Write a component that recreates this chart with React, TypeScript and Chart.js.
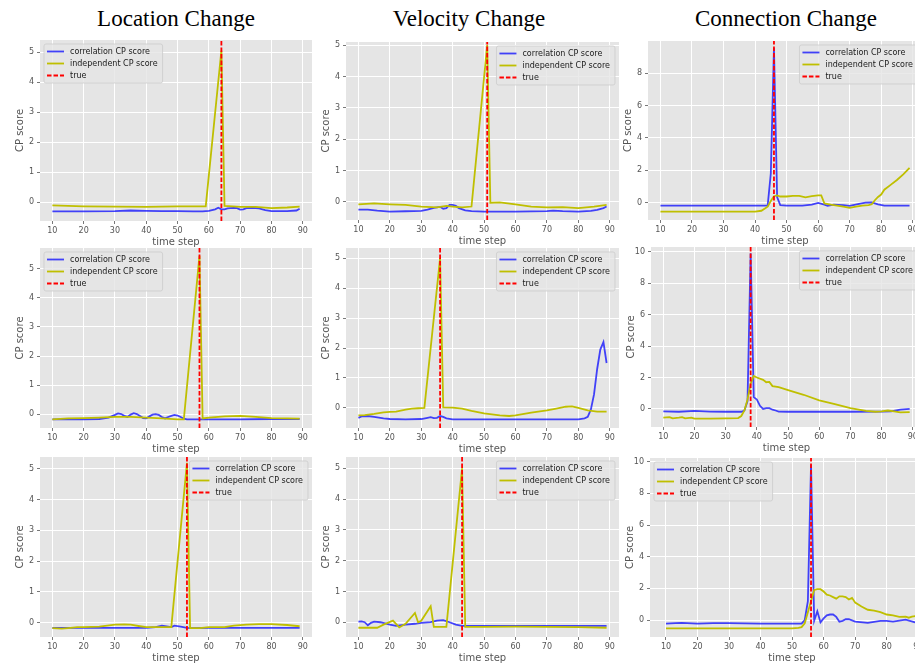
import React, { useEffect, useRef } from 'react';
import { Chart, registerables } from 'chart.js';

Chart.register(...registerables);
Chart.defaults.font.family = '"DejaVu Sans", sans-serif';

// ---------- tick labels / texts ----------
const xTicks = [10, 20, 30, 40, 50, 60, 70, 80, 90];
const yTicksSmall = [0, 1, 2, 3, 4, 5];
const yTicksConnTop = [0, 2, 4, 6, 8];
const yTicksConn = [0, 2, 4, 6, 8, 10];
const columnTitles = ['Location Change', 'Velocity Change', 'Connection Change'];
const seriesLabels = ['correlation CP score', 'independent CP score', 'true'];
const xTitle = 'time step';
const yTitle = 'CP score';

// ---------- Row 1 ----------
// Location change
const loc1CorrX = [10, 20, 30, 35, 40, 45, 50, 55, 58, 60, 62, 63, 64, 65, 66, 68, 69, 70, 71, 72, 74, 76, 78, 80, 85, 88, 89];
const loc1CorrY = [-0.31, -0.31, -0.3, -0.28, -0.29, -0.3, -0.3, -0.31, -0.31, -0.29, -0.24, -0.19, -0.24, -0.24, -0.21, -0.19, -0.2, -0.25, -0.24, -0.2, -0.19, -0.21, -0.27, -0.3, -0.3, -0.28, -0.22];
const loc1IndX = [10, 20, 30, 40, 50, 59, 64, 65, 70, 75, 80, 85, 89];
const loc1IndY = [-0.11, -0.14, -0.15, -0.16, -0.14, -0.14, 5.05, -0.13, -0.16, -0.16, -0.2, -0.18, -0.15];
const loc1True = 64;

// Velocity change
const vel1CorrX = [10, 13, 16, 20, 25, 30, 32, 34, 36, 37, 38, 39, 40, 41, 42, 44, 46, 50, 60, 70, 72, 75, 80, 84, 86, 88, 89];
const vel1CorrY = [-0.25, -0.25, -0.28, -0.31, -0.3, -0.29, -0.25, -0.19, -0.16, -0.22, -0.2, -0.1, -0.1, -0.13, -0.2, -0.27, -0.3, -0.31, -0.31, -0.3, -0.28, -0.3, -0.31, -0.29, -0.26, -0.2, -0.15];
const vel1IndX = [10, 15, 20, 25, 30, 35, 38, 40, 43, 46, 51, 52, 55, 60, 65, 70, 75, 80, 85, 89];
const vel1IndY = [-0.08, -0.05, -0.08, -0.1, -0.15, -0.18, -0.13, -0.15, -0.18, -0.15, 5.0, -0.03, -0.02, -0.08, -0.15, -0.18, -0.17, -0.2, -0.15, -0.1];
const vel1True = 51;

// Connection change
const con1CorrX = [10, 20, 30, 40, 44, 45, 46, 47, 48, 50, 55, 58, 60, 62, 63, 65, 68, 70, 73, 75, 77, 79, 81, 85, 89];
const con1CorrY = [-0.18, -0.18, -0.18, -0.18, -0.18, 1.8, 9.55, 0.35, -0.15, -0.18, -0.18, -0.12, -0.02, -0.12, -0.2, -0.12, -0.15, -0.2, -0.08, 0, 0.02, -0.1, -0.18, -0.18, -0.18];
const con1IndX = [10, 20, 30, 40, 42, 44, 45, 46, 47, 48, 50, 52, 54, 56, 58, 60, 61, 62, 64, 66, 68, 70, 72, 74, 76, 77, 78, 79, 80, 81, 83, 85, 87, 89];
const con1IndY = [-0.55, -0.55, -0.55, -0.55, -0.5, -0.25, 0.1, 0.4, 0.45, 0.38, 0.38, 0.42, 0.42, 0.33, 0.4, 0.45, 0.45, -0.05, -0.12, -0.18, -0.25, -0.32, -0.25, -0.18, -0.15, -0.1, 0.15, 0.35, 0.5, 0.8, 1.1, 1.4, 1.75, 2.15];
const con1True = 46;

// ---------- Row 2 ----------
const loc2CorrX = [10, 20, 25, 28, 30, 31, 32, 33, 34, 35, 36, 37, 38, 39, 40, 41, 42, 43, 44, 45, 46, 47, 48, 49, 50, 51, 52, 53, 55, 60, 70, 80, 89];
const loc2CorrY = [-0.18, -0.18, -0.17, -0.12, -0.03, 0.02, 0, -0.06, -0.1, -0.02, 0.03, 0, -0.07, -0.14, -0.15, -0.08, -0.02, 0, -0.03, -0.1, -0.15, -0.1, -0.06, -0.03, -0.05, -0.1, -0.16, -0.18, -0.18, -0.18, -0.18, -0.17, -0.17];
const loc2IndX = [10, 15, 20, 25, 30, 35, 40, 45, 50, 52, 57, 58, 60, 65, 70, 75, 80, 85, 89];
const loc2IndY = [-0.18, -0.15, -0.14, -0.12, -0.1, -0.1, -0.12, -0.15, -0.18, -0.18, 5.45, -0.15, -0.12, -0.08, -0.06, -0.1, -0.14, -0.15, -0.16];
const loc2True = 57;

const vel2CorrX = [10, 11, 13, 15, 18, 20, 25, 30, 32, 33, 34, 35, 36, 37, 38, 40, 50, 60, 70, 80, 82, 83, 84, 85, 86, 87, 88, 89];
const vel2CorrY = [-0.33, -0.28, -0.27, -0.3, -0.35, -0.37, -0.38, -0.37, -0.33, -0.31, -0.34, -0.33, -0.27, -0.3, -0.35, -0.38, -0.38, -0.38, -0.38, -0.38, -0.35, -0.3, -0.05, 0.45, 1.3, 1.95, 2.2, 1.5];
const vel2IndX = [10, 12, 15, 18, 20, 22, 25, 27, 29, 31, 36, 37, 40, 43, 46, 50, 55, 58, 60, 65, 70, 73, 76, 78, 80, 83, 86, 89];
const vel2IndY = [-0.25, -0.24, -0.2, -0.15, -0.13, -0.12, -0.06, -0.02, -0.01, 0, 5.0, 0.02, 0.01, -0.02, -0.1, -0.18, -0.25, -0.27, -0.25, -0.16, -0.08, -0.02, 0.04, 0.05, 0, -0.08, -0.12, -0.12];
const vel2True = 36;

const con2CorrX = [10, 15, 20, 25, 30, 35, 36, 37, 38, 39, 40, 41, 42, 43, 44, 45, 46, 47, 50, 60, 70, 80, 83, 86, 89];
const con2CorrY = [-0.15, -0.18, -0.12, -0.17, -0.18, -0.18, -0.1, 0.5, 9.9, 0.75, 0.6, 0.2, 0, 0.05, 0.05, -0.05, -0.1, -0.17, -0.18, -0.18, -0.18, -0.17, -0.15, -0.05, 0];
const con2IndX = [10, 12, 13, 15, 16, 17, 19, 20, 25, 30, 34, 35, 36, 37, 38, 39, 40, 42, 43, 44, 45, 47, 50, 55, 60, 65, 70, 75, 78, 80, 82, 84, 86, 89];
const con2IndY = [-0.55, -0.52, -0.6, -0.55, -0.52, -0.6, -0.55, -0.62, -0.62, -0.6, -0.58, -0.45, -0.1, 0.6, 1.6, 2.1, 2.0, 1.85, 1.7, 1.72, 1.45, 1.38, 1.2, 0.9, 0.55, 0.3, 0.05, -0.12, -0.18, -0.15, -0.1, -0.15, -0.22, -0.2];
const con2True = 38;

// ---------- Row 3 ----------
const loc3CorrX = [10, 20, 30, 40, 43, 45, 47, 48, 49, 51, 53, 55, 60, 70, 80, 89];
const loc3CorrY = [-0.17, -0.17, -0.17, -0.17, -0.15, -0.1, -0.13, -0.15, -0.1, -0.13, -0.17, -0.18, -0.17, -0.17, -0.17, -0.17];
const loc3IndX = [10, 13, 15, 18, 20, 25, 30, 33, 35, 38, 40, 45, 48, 53, 54, 57, 60, 65, 68, 72, 76, 80, 85, 89];
const loc3IndY = [-0.18, -0.2, -0.18, -0.15, -0.15, -0.13, -0.07, -0.06, -0.07, -0.12, -0.15, -0.15, -0.15, 5.2, -0.18, -0.18, -0.15, -0.15, -0.1, -0.07, -0.05, -0.05, -0.08, -0.12];
const loc3True = 53;

const vel3CorrX = [10, 11, 12, 13, 14, 15, 17, 20, 22, 25, 28, 30, 33, 35, 37, 39, 41, 43, 45, 50, 60, 70, 80, 89];
const vel3CorrY = [0.02, 0.03, 0, -0.1, -0.02, 0.02, 0, -0.08, -0.12, -0.08, -0.05, -0.02, 0, 0.05, 0.07, 0, -0.08, -0.12, -0.12, -0.12, -0.12, -0.12, -0.12, -0.12];
const vel3IndX = [10, 13, 16, 18, 21, 23, 25, 28, 29, 30, 33, 34, 36, 38, 43, 44, 50, 60, 70, 80, 89];
const vel3IndY = [-0.18, -0.18, -0.18, -0.08, 0.05, -0.17, -0.05, 0.3, 0, 0.05, 0.52, -0.15, -0.15, -0.15, 5.0, -0.15, -0.15, -0.14, -0.15, -0.16, -0.18];
const vel3True = 43;

const con3CorrX = [10, 13, 15, 20, 25, 30, 40, 50, 53, 54, 55, 56, 57, 58, 59, 60, 61, 62, 63, 64, 65, 66, 67, 68, 70, 74, 78, 80, 82, 86, 89];
const con3CorrY = [-0.22, -0.2, -0.18, -0.22, -0.2, -0.2, -0.22, -0.22, -0.22, 0, 1.2, 9.8, -0.05, 0.55, -0.15, 0.1, 0.3, 0.35, 0.35, 0.2, -0.1, -0.05, 0.05, 0.05, -0.1, -0.18, -0.05, -0.05, -0.1, 0.02, -0.15];
const con3IndX = [10, 20, 30, 40, 50, 52, 53, 54, 55, 56, 57, 58, 59, 60, 61, 62, 63, 64, 65, 66, 67, 68, 69, 70, 72, 74, 76, 78, 80, 82, 84, 86, 87, 88, 89];
const con3IndY = [-0.52, -0.52, -0.52, -0.52, -0.52, -0.5, -0.45, -0.2, 0.5, 1.2, 1.9, 1.95, 1.95, 1.8, 1.6, 1.55, 1.45, 1.35, 1.5, 1.5, 1.45, 1.3, 1.4, 1.1, 0.85, 0.65, 0.6, 0.5, 0.35, 0.3, 0.2, 0.22, 0.15, 0.22, 0.25];
const con3True = 56;

// ---------- styling ----------
const BLUE = 'rgba(0, 0, 255, 0.72)';
const YELLOW = '#bfbf00';
const RED = '#ff0000';
const AXES_BG = '#e5e5e5';
const TEXT_GRAY = '#555555';
const LINE_W = 1.8;

type Box = { l: number; t: number; r: number; b: number };
type Panel = {
  corrX: number[]; corrY: number[]; indX: number[]; indY: number[]; trueX: number;
  yTicks: number[]; yRange: [number, number]; xRange: [number, number];
  box: Box; legend: 'left' | 'right';
};

const panels: Panel[] = [
  { corrX: loc1CorrX, corrY: loc1CorrY, indX: loc1IndX, indY: loc1IndY, trueX: loc1True, yTicks: yTicksSmall, yRange: [-0.63, 5.4], xRange: [6.05, 92.95], box: { l: 40, t: 40, r: 312, b: 221 }, legend: 'left' },
  { corrX: vel1CorrX, corrY: vel1CorrY, indX: vel1IndX, indY: vel1IndY, trueX: vel1True, yTicks: yTicksSmall, yRange: [-0.58, 5.1], xRange: [6.05, 92.95], box: { l: 346, t: 42, r: 619, b: 220 }, legend: 'right' },
  { corrX: con1CorrX, corrY: con1CorrY, indX: con1IndX, indY: con1IndY, trueX: con1True, yTicks: yTicksConnTop, yRange: [-1.07, 9.98], xRange: [6.05, 92.95], box: { l: 648, t: 41, r: 922, b: 220 }, legend: 'right' },
  { corrX: loc2CorrX, corrY: loc2CorrY, indX: loc2IndX, indY: loc2IndY, trueX: loc2True, yTicks: yTicksSmall, yRange: [-0.48, 5.72], xRange: [6.05, 92.95], box: { l: 40, t: 248, r: 312, b: 428 }, legend: 'left' },
  { corrX: vel2CorrX, corrY: vel2CorrY, indX: vel2IndX, indY: vel2IndY, trueX: vel2True, yTicks: yTicksSmall, yRange: [-0.67, 5.34], xRange: [6.05, 92.95], box: { l: 346, t: 248, r: 619, b: 428 }, legend: 'right' },
  { corrX: con2CorrX, corrY: con2CorrY, indX: con2IndX, indY: con2IndY, trueX: con2True, yTicks: yTicksConn, yRange: [-1.15, 10.3], xRange: [6.05, 92.95], box: { l: 651, t: 247, r: 922, b: 427 }, legend: 'right' },
  { corrX: loc3CorrX, corrY: loc3CorrY, indX: loc3IndX, indY: loc3IndY, trueX: loc3True, yTicks: yTicksSmall, yRange: [-0.47, 5.39], xRange: [6.05, 92.95], box: { l: 40, t: 457, r: 312, b: 637 }, legend: 'right' },
  { corrX: vel3CorrX, corrY: vel3CorrY, indX: vel3IndX, indY: vel3IndY, trueX: vel3True, yTicks: yTicksSmall, yRange: [-0.48, 5.37], xRange: [6.05, 92.95], box: { l: 346, t: 457, r: 619, b: 637 }, legend: 'right' },
  { corrX: con3CorrX, corrY: con3CorrY, indX: con3IndX, indY: con3IndY, trueX: con3True, yTicks: yTicksConn, yRange: [-1.07, 10.23], xRange: [4.93, 95], box: { l: 650, t: 458, r: 934, b: 637 }, legend: 'left' },
];

const titleCenters = [176, 469, 786];

const PAD_TOP = 8;
const PAD_RIGHT = 10;
const Y_AXIS_W = 40;
const X_AXIS_H = 32;

const toPoints = (xs: number[], ys: number[]) => xs.map((x, i) => ({ x, y: ys[i] }));

const bgPlugin = {
  id: 'axesBg',
  beforeDraw(chart: any) {
    const { ctx, chartArea: a } = chart;
    ctx.save();
    ctx.fillStyle = AXES_BG;
    ctx.fillRect(a.left, a.top, a.right - a.left, a.bottom - a.top);
    ctx.restore();
  },
};

const legendPlugin = {
  id: 'mplLegend',
  afterDatasetsDraw(chart: any, _args: any, opts: any) {
    const { ctx, chartArea: a } = chart;
    const items = chart.data.datasets.map((ds: any) => ({
      text: ds.label, color: ds.borderColor, dash: ds.borderDash || [], width: ds.borderWidth,
    }));
    ctx.save();
    ctx.font = '8px "DejaVu Sans", sans-serif';
    const textW = Math.max(...items.map((it: any) => ctx.measureText(it.text).width));
    const padL = 3, handle = 17, gap = 6, padR = 5, rowH = 12, padV = 7.5, inset = 4;
    const w = padL + handle + gap + textW + padR;
    const h = padV * 2 + rowH * (items.length - 1);
    const x0 = opts.side === 'left' ? a.left + inset : a.right - inset - w;
    const y0 = a.top + inset;
    ctx.beginPath();
    ctx.roundRect(x0, y0, w, h, 2);
    ctx.fillStyle = 'rgba(229,229,229,0.8)';
    ctx.fill();
    ctx.strokeStyle = 'rgba(204,204,204,0.8)';
    ctx.lineWidth = 1;
    ctx.stroke();
    items.forEach((it: any, i: number) => {
      const cy = y0 + padV + i * rowH;
      ctx.beginPath();
      ctx.setLineDash(it.dash);
      ctx.strokeStyle = it.color;
      ctx.lineWidth = it.width;
      ctx.moveTo(x0 + padL, cy);
      ctx.lineTo(x0 + padL + handle, cy);
      ctx.stroke();
      ctx.setLineDash([]);
      ctx.fillStyle = '#1a1a1a';
      ctx.textBaseline = 'middle';
      ctx.textAlign = 'left';
      ctx.fillText(it.text, x0 + padL + handle + gap, cy);
    });
    ctx.restore();
  },
};

function PanelChart({ p }: { p: Panel }) {
  const ref = useRef<HTMLCanvasElement | null>(null);
  const width = p.box.r - p.box.l + Y_AXIS_W + PAD_RIGHT;
  const height = p.box.b - p.box.t + PAD_TOP + X_AXIS_H;

  useEffect(() => {
    if (!ref.current) return;
    const chart = new Chart(ref.current, {
      type: 'line',
      data: {
        datasets: [
          { label: seriesLabels[0], data: toPoints(p.corrX, p.corrY), borderColor: BLUE, borderWidth: LINE_W, pointRadius: 0, tension: 0, fill: false, order: 3 },
          { label: seriesLabels[1], data: toPoints(p.indX, p.indY), borderColor: YELLOW, borderWidth: LINE_W, pointRadius: 0, tension: 0, fill: false, order: 2 },
          { label: seriesLabels[2], data: [{ x: p.trueX, y: p.yRange[0] }, { x: p.trueX, y: p.yRange[1] }], borderColor: RED, borderDash: [4.5, 2], borderWidth: LINE_W, pointRadius: 0, fill: false, order: 1 },
        ],
      } as any,
      options: {
        responsive: false,
        animation: false,
        devicePixelRatio: 1,
        events: [],
        layout: { padding: { top: PAD_TOP, right: PAD_RIGHT, left: 0, bottom: 0 } },
        plugins: {
          legend: { display: false },
          tooltip: { enabled: false },
          mplLegend: { side: p.legend },
        } as any,
        scales: {
          x: {
            type: 'linear',
            min: p.xRange[0],
            max: p.xRange[1],
            afterBuildTicks: (s: any) => { s.ticks = xTicks.map((v) => ({ value: v })); },
            afterFit: (s: any) => { s.height = X_AXIS_H; },
            grid: { color: '#ffffff', lineWidth: 1, drawTicks: true, tickLength: 3, tickColor: TEXT_GRAY, tickWidth: 0.8 },
            border: { display: false },
            ticks: { color: TEXT_GRAY, font: { size: 8 }, padding: 2, maxRotation: 0, autoSkip: false, callback: (v: any) => String(v) },
            title: { display: true, text: xTitle, color: TEXT_GRAY, font: { size: 10 }, padding: { top: 0, bottom: 5 } },
          },
          y: {
            type: 'linear',
            min: p.yRange[0],
            max: p.yRange[1],
            afterBuildTicks: (s: any) => { s.ticks = p.yTicks.map((v) => ({ value: v })); },
            afterFit: (s: any) => { s.width = Y_AXIS_W; },
            grid: { color: '#ffffff', lineWidth: 1, drawTicks: true, tickLength: 3, tickColor: TEXT_GRAY, tickWidth: 0.8 },
            border: { display: false },
            ticks: { color: TEXT_GRAY, font: { size: 8 }, padding: 3, autoSkip: false, callback: (v: any) => String(v) },
            title: { display: true, text: yTitle, color: TEXT_GRAY, font: { size: 10 }, padding: { top: 14, bottom: 0 } },
          },
        },
      } as any,
      plugins: [bgPlugin, legendPlugin],
    });
    return () => chart.destroy();
  }, [p]);

  return (
    <canvas
      ref={ref}
      width={width}
      height={height}
      style={{ position: 'absolute', left: p.box.l - Y_AXIS_W, top: p.box.t - PAD_TOP, width, height }}
    />
  );
}

export default function App() {
  return (
    <div style={{ position: 'fixed', left: 0, top: 0, width: 915, height: 667, overflow: 'hidden', background: '#ffffff' }}>
      {columnTitles.map((t, i) => (
        <div
          key={t}
          style={{
            position: 'absolute', left: titleCenters[i], top: 7, transform: 'translateX(-50%)',
            fontFamily: '"Liberation Serif", "Times New Roman", serif', fontSize: 23, lineHeight: '23px',
            whiteSpace: 'nowrap', color: '#000',
          }}
        >
          {t}
        </div>
      ))}
      {panels.map((p, i) => (
        <PanelChart key={i} p={p} />
      ))}
    </div>
  );
}
